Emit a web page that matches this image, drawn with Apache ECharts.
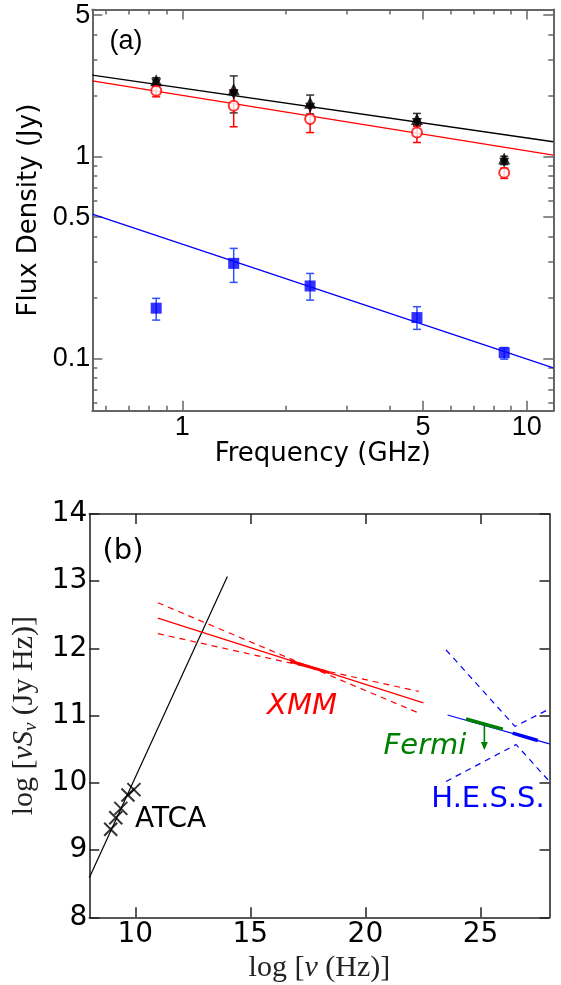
<!DOCTYPE html>
<html><head><meta charset="utf-8">
<script src="https://cdn.jsdelivr.net/npm/echarts@6/dist/echarts.min.js"></script>
<style>html,body{margin:0;padding:0;background:#fff}#c{width:561px;height:985px}</style>
</head><body><div id="c"></div><script>
// ---------- panel (a): flux density vs frequency (log-log) ----------
const freqGHz   = [0.84, 1.41, 2.35, 4.8, 8.6];
const totalUp   = [2.38, 2.15, 1.84, 1.53, 0.975];
const totalDown = [2.30, 2.02, 1.74, 1.46, 0.93];
const totalHi   = [2.45, 2.50, 2.01, 1.63, 1.00];
const totalLo   = [2.25, 1.64, 1.62, 1.42, 0.91];
const redFlux   = [2.11, 1.78, 1.53, 1.31, 0.83];
const redHi     = [2.21, 2.13, 1.76, 1.41, 0.874];
const redLo     = [1.97, 1.40, 1.31, 1.17, 0.777];
const blueFlux  = [0.177, 0.295, 0.228, 0.159, 0.1065];
const blueHi    = [0.198, 0.350, 0.263, 0.180, 0.113];
const blueLo    = [0.1545, 0.2375, 0.194, 0.139, 0.099];
const fitFreq   = [0.548, 11.94];
const blackFit  = [2.52, 1.18];
const redFit    = [2.36, 1.014];
const blueFit   = [0.517, 0.0897];
const aXRange   = [0.548, 11.94];
const aYRange   = [0.055, 5.33];
const aXMajor   = [1, 5, 10];
const aXMinor   = [0.6, 0.7, 0.8, 0.9, 2, 3, 4, 6, 7, 8, 9];
const aYMajor   = [0.1, 0.5, 1, 5];
const aYMinor   = [0.06, 0.07, 0.08, 0.09, 0.2, 0.3, 0.4, 0.6, 0.7, 0.8, 0.9, 2, 3, 4];

// ---------- panel (b): log nuS_nu vs log nu ----------
const bXRange = [8, 28];
const bYRange = [8, 14];
const bXTicks = [10, 15, 20, 25];
const atcaLogNu     = [8.93, 9.15, 9.37, 9.68, 9.94];
const atcaLogNuSnu  = [9.31, 9.48, 9.62, 9.82, 9.90];
const radioFitX = [8.0, 14.0];
const radioFitY = [8.59, 13.07];
const xmmFitX = [10.98, 22.52];
const xmmFitY = [12.45, 11.19];
const xmmBowAX = [10.98, 22.24];
const xmmBowAY = [12.68, 11.05];
const xmmBowBX = [10.98, 22.32];
const xmmBowBY = [12.22, 11.36];
const xmmDataX = [16.73, 18.43];
const xmmDataY = [11.81, 11.64];
const hessFitX = [23.57, 28.0];
const hessFitY = [11.01, 10.58];
const hessDataX = [26.40, 27.49];
const hessDataY = [10.74, 10.63];
const hessBowUpX = [23.5, 26.5, 28.0];
const hessBowUpY = [11.98, 10.84, 11.10];
const hessBowLoX = [23.5, 26.55, 28.0];
const hessBowLoY = [10.02, 10.57, 10.02];
const fermiX = [24.37, 25.97];
const fermiY = [10.95, 10.80];
const fermiArrowX = [25.17, 25.17];
const fermiArrowY = [10.86, 10.49];

const lg = Math.log10;
const zip = (a, b) => a.map((v, i) => [v, b[i]]);
const lgzip = (a, b) => a.map((v, i) => [lg(v), lg(b[i])]);
const fmtLog = v => String(+Math.pow(10, v).toPrecision(3));

const GRAY = '#666';
const FA = 'Liberation Sans';
const FB = 'DejaVu Sans';

function axisBase(extra) {
  return Object.assign({
    type: 'value', splitLine: { show: false },
    axisLine: { show: false, onZero: false }, axisLabel: { show: false },
  }, extra);
}

const xAxis = [
  axisBase({ gridIndex: 0, position: 'bottom', min: lg(aXRange[0]), max: lg(aXRange[1]),
    axisLine: { show: true, onZero: false, lineStyle: { color: GRAY, width: 2 } },
    axisTick: { inside: true, length: 10, customValues: aXMajor.map(lg), lineStyle: { color: GRAY, width: 1.5 } },
    axisLabel: { show: true, customValues: aXMajor.map(lg), formatter: fmtLog, margin: 3, fontSize: 27, fontFamily: FA, color: '#000' },
    name: 'Frequency (GHz)', nameLocation: 'middle', nameGap: 30,
    nameTextStyle: { fontSize: 26, fontFamily: FB, color: '#000' } }),
  axisBase({ gridIndex: 0, position: 'bottom', min: lg(aXRange[0]), max: lg(aXRange[1]),
    axisTick: { inside: true, length: 5, customValues: aXMinor.map(lg), lineStyle: { color: GRAY, width: 1.5 } } }),
  axisBase({ gridIndex: 0, position: 'top', min: lg(aXRange[0]), max: lg(aXRange[1]),
    axisLine: { show: true, onZero: false, lineStyle: { color: GRAY, width: 2 } },
    axisTick: { inside: true, length: 10, customValues: aXMajor.map(lg), lineStyle: { color: GRAY, width: 1.5 } } }),
  axisBase({ gridIndex: 0, position: 'top', min: lg(aXRange[0]), max: lg(aXRange[1]),
    axisTick: { inside: true, length: 5, customValues: aXMinor.map(lg), lineStyle: { color: GRAY, width: 1.5 } } }),
  axisBase({ gridIndex: 1, position: 'bottom', min: bXRange[0], max: bXRange[1],
    axisLine: { show: true, onZero: false, lineStyle: { color: '#222', width: 1.5 } },
    axisTick: { inside: true, length: 10, customValues: bXTicks, lineStyle: { color: '#222', width: 1.5 } },
    axisLabel: { show: true, customValues: bXTicks, margin: 3, fontSize: 28, fontFamily: FB, color: '#000' },
    name: '{r|log [}{i|ν}{r| (Hz)]}', nameLocation: 'middle', nameGap: 36,
    nameTextStyle: { rich: {
      r: { fontSize: 30, fontFamily: 'Liberation Serif', color: '#222' },
      i: { fontSize: 30, fontFamily: 'Liberation Serif', fontStyle: 'italic', color: '#222' } } } }),
  axisBase({ gridIndex: 1, position: 'top', min: bXRange[0], max: bXRange[1],
    axisLine: { show: true, onZero: false, lineStyle: { color: '#222', width: 1.5 } },
    axisTick: { inside: true, length: 10, customValues: bXTicks, lineStyle: { color: '#222', width: 1.5 } } }),
];

const yAxis = [
  axisBase({ gridIndex: 0, position: 'left', min: lg(aYRange[0]), max: lg(aYRange[1]),
    axisLine: { show: true, onZero: false, lineStyle: { color: GRAY, width: 2 } },
    axisTick: { inside: true, length: 10, customValues: aYMajor.map(lg), lineStyle: { color: GRAY, width: 1.5 } },
    axisLabel: { show: true, customValues: aYMajor.map(lg), formatter: fmtLog, margin: 2, fontSize: 27, fontFamily: FA, color: '#000' },
    name: 'Flux Density (Jy)', nameLocation: 'middle', nameGap: 48,
    nameTextStyle: { fontSize: 26, fontFamily: FB, color: '#000' } }),
  axisBase({ gridIndex: 0, position: 'left', min: lg(aYRange[0]), max: lg(aYRange[1]),
    axisTick: { inside: true, length: 5, customValues: aYMinor.map(lg), lineStyle: { color: GRAY, width: 1.5 } } }),
  axisBase({ gridIndex: 0, position: 'right', min: lg(aYRange[0]), max: lg(aYRange[1]),
    axisLine: { show: true, onZero: false, lineStyle: { color: GRAY, width: 2 } },
    axisTick: { inside: true, length: 10, customValues: aYMajor.map(lg), lineStyle: { color: GRAY, width: 1.5 } } }),
  axisBase({ gridIndex: 0, position: 'right', min: lg(aYRange[0]), max: lg(aYRange[1]),
    axisTick: { inside: true, length: 5, customValues: aYMinor.map(lg), lineStyle: { color: GRAY, width: 1.5 } } }),
  axisBase({ gridIndex: 1, position: 'left', min: bYRange[0], max: bYRange[1], interval: 1,
    axisLine: { show: true, onZero: false, lineStyle: { color: '#555', width: 2 } },
    axisTick: { show: true, inside: true, length: 10, lineStyle: { color: '#222', width: 1.5 } },
    axisLabel: { show: true, margin: 2, fontSize: 28, fontFamily: FB, color: '#000' },
    name: '{r|log [}{i|νS}{s|ν}{r| (Jy Hz)]}', nameLocation: 'middle', nameGap: 42,
    nameTextStyle: { rich: {
      r: { fontSize: 30, fontFamily: 'Liberation Serif', color: '#222' },
      i: { fontSize: 30, fontFamily: 'Liberation Serif', fontStyle: 'italic', color: '#222' },
      s: { fontSize: 19, fontFamily: 'Liberation Serif', fontStyle: 'italic', color: '#222', padding: [14, 0, 0, 0] } } } }),
  axisBase({ gridIndex: 1, position: 'right', min: bYRange[0], max: bYRange[1], interval: 1,
    axisLine: { show: true, onZero: false, lineStyle: { color: '#555', width: 2 } },
    axisTick: { show: true, inside: true, length: 10, lineStyle: { color: '#222', width: 1.5 } } }),
];

function errSeries(xs, lo, hi, color) {
  return {
    type: 'custom', xAxisIndex: 0, yAxisIndex: 0, silent: true, z: 3,
    encode: { x: 0, y: [1, 2] },
    data: xs.map((x, i) => [lg(x), lg(lo[i]), lg(hi[i])]),
    renderItem: (params, api) => {
      const p1 = api.coord([api.value(0), api.value(1)]);
      const p2 = api.coord([api.value(0), api.value(2)]);
      const w = 4, st = { stroke: color, lineWidth: 1.5 };
      return { type: 'group', children: [
        { type: 'line', shape: { x1: p1[0], y1: p1[1], x2: p2[0], y2: p2[1] }, style: st },
        { type: 'line', shape: { x1: p1[0] - w, y1: p1[1], x2: p1[0] + w, y2: p1[1] }, style: st },
        { type: 'line', shape: { x1: p2[0] - w, y1: p2[1], x2: p2[0] + w, y2: p2[1] }, style: st },
      ] };
    }
  };
}
function fitLine(ys, color) {
  return { type: 'line', xAxisIndex: 0, yAxisIndex: 0, data: lgzip(fitFreq, ys), symbol: 'none',
    silent: true, z: 2, lineStyle: { color: color, width: 1.3 } };
}
function bLine(xs, ys, color, width, type, z) {
  return { type: 'line', xAxisIndex: 4, yAxisIndex: 4, data: zip(xs, ys), symbol: 'none',
    silent: true, z: z || 2, lineStyle: { color: color, width: width, type: type || 'solid' } };
}

const series = [
  fitLine(blackFit, '#000'),
  fitLine(redFit, '#ff0000'),
  fitLine(blueFit, '#0000ff'),
  errSeries(freqGHz, totalLo, totalHi, '#333'),
  { type: 'scatter', xAxisIndex: 0, yAxisIndex: 0, data: lgzip(freqGHz, totalDown), symbol: 'triangle',
    symbolRotate: 180, symbolSize: 10, itemStyle: { color: '#000' }, z: 4 },
  { type: 'scatter', xAxisIndex: 0, yAxisIndex: 0, data: lgzip(freqGHz, totalUp), symbol: 'triangle',
    symbolSize: 12, itemStyle: { color: '#000' }, z: 4 },
  errSeries(freqGHz, redLo, redHi, '#ff0000'),
  { type: 'scatter', xAxisIndex: 0, yAxisIndex: 0, data: lgzip(freqGHz, redFlux), symbol: 'circle',
    symbolSize: 10, itemStyle: { color: '#fff', borderColor: '#ff0000', borderWidth: 2 }, z: 5 },
  errSeries(freqGHz, blueLo, blueHi, '#3050ff'),
  { type: 'scatter', xAxisIndex: 0, yAxisIndex: 0, data: lgzip(freqGHz, blueFlux), symbol: 'rect',
    symbolSize: 11, itemStyle: { color: '#0000ff' }, z: 5 },

  // panel b
  bLine(radioFitX, radioFitY, '#000', 1.2),
  { type: 'scatter', xAxisIndex: 4, yAxisIndex: 4, data: zip(atcaLogNu, atcaLogNuSnu),
    symbol: 'path://M0,0L10,10M10,0L0,10', symbolSize: 13,
    itemStyle: { color: 'rgba(0,0,0,0)', borderColor: '#000', borderWidth: 2 }, z: 4 },
  bLine(xmmFitX, xmmFitY, '#ff0000', 1.2),
  bLine(xmmBowAX, xmmBowAY, '#ff0000', 1.2, [6, 5]),
  bLine(xmmBowBX, xmmBowBY, '#ff0000', 1.2, [6, 5]),
  bLine(xmmDataX, xmmDataY, '#ff0000', 3, 'solid', 3),
  bLine(hessFitX, hessFitY, '#0000ff', 1.2),
  bLine(hessBowUpX, hessBowUpY, '#0000ff', 1.2, [6, 5]),
  bLine(hessBowLoX, hessBowLoY, '#0000ff', 1.2, [6, 5]),
  bLine(hessDataX, hessDataY, '#0000ff', 3.5, 'solid', 3),
  bLine(fermiX, fermiY, '#008000', 3.5, 'solid', 3),
  { type: 'custom', xAxisIndex: 4, yAxisIndex: 4, silent: true, z: 4,
    encode: { x: [0, 2], y: [1, 3] },
    data: [[fermiArrowX[0], fermiArrowY[0], fermiArrowX[1], fermiArrowY[1]]],
    renderItem: (params, api) => {
      const p0 = api.coord([api.value(0), api.value(1)]);
      const p1 = api.coord([api.value(2), api.value(3)]);
      const c = '#008000';
      return { type: 'group', children: [
        { type: 'line', shape: { x1: p0[0], y1: p0[1], x2: p1[0], y2: p1[1] - 2 }, style: { stroke: c, lineWidth: 1.6 } },
        { type: 'polygon', shape: { points: [[p1[0], p1[1]], [p1[0] - 3.5, p1[1] - 8], [p1[0] + 3.5, p1[1] - 8]] },
          style: { fill: c } },
      ] };
    } },
];

function txt(x, y, text, size, family, color, style, align) {
  return { type: 'text', x: x, y: y, silent: true, z: 10,
    style: { text: text, fontSize: size, fontFamily: family, fill: color, fontStyle: style || 'normal',
      align: align || 'center', verticalAlign: 'middle' } };
}

const option = {
  animation: false,
  backgroundColor: '#fff',
  grid: [
    { left: 92.3, top: 9.5, width: 461, height: 401.2, containLabel: false },
    { left: 89.3, top: 514, width: 460.2, height: 403.3, containLabel: false },
  ],
  xAxis: xAxis,
  yAxis: yAxis,
  series: series,
  graphic: [
    txt(126, 42, '(a)', 27, FA, '#000'),
    txt(123, 551, '(b)', 29, FB, '#000'),
    txt(135, 820, 'ATCA', 28, FB, '#000', 'normal', 'left'),
    txt(302, 706, 'XMM', 29, FB, '#ff0000', 'italic'),
    txt(425, 746, 'Fermi', 29, FB, '#008000', 'italic'),
    txt(488, 799, 'H.E.S.S.', 29, FB, '#0000ff'),
  ],
};

const chart = echarts.init(document.getElementById('c'), null, { renderer: 'canvas' });
chart.setOption(option);
</script></body></html>
